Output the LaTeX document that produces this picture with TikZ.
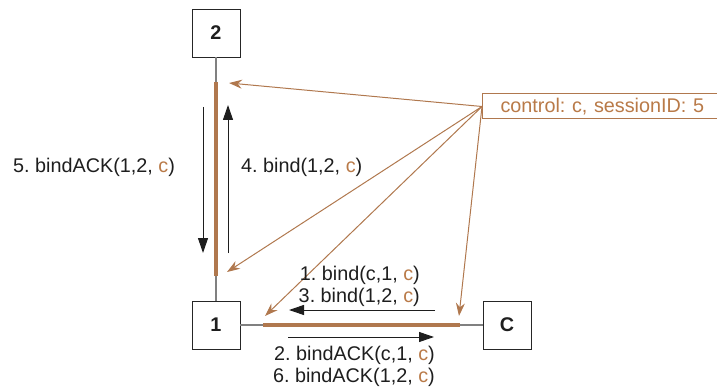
\documentclass[tikz,border=0pt]{standalone}
\usepackage{fontspec}
\setmainfont{Liberation Sans}
\usetikzlibrary{arrows.meta}
\definecolor{linkbrown}{RGB}{176,120,78}
\definecolor{txtbrown}{RGB}{185,122,72}
\definecolor{wire}{RGB}{128,128,128}
\definecolor{ink}{RGB}{30,30,30}
\tikzset{
  peer/.style={draw=black!85, line width=0.9pt, fill=white, minimum width=48pt,
    minimum height=48pt, inner sep=0pt, text=ink, font=\fontsize{19.8}{22}\selectfont\bfseries},
  wireline/.style={draw=wire, line width=1.6pt},
  session/.style={draw=linkbrown, line width=4pt},
  msg/.style={draw=ink, line width=1pt, -{Triangle[length=15pt,width=10pt]}},
  ctrlarrow/.style={draw=linkbrown, line width=1pt, -{Stealth[length=13pt,width=9pt]}},
  lbl/.style={inner sep=0pt, text=ink, font=\fontsize{19.8}{22}\selectfont},
}
\newcommand{\bc}{\textcolor{txtbrown}{c}}
\frenchspacing
\begin{document}
\begin{tikzpicture}[x=1pt,y=-1pt]
  \useasboundingbox (0,0) rectangle (717,390);

  % peers
  \node[peer] (p2) at (216,33) {2};
  \node[peer] (p1) at (216,325) {1};
  \node[peer] (pc) at (507,325) {C};

  % control box (runs off the right edge)
  \node[draw=linkbrown, line width=1pt, fill=white, anchor=west, minimum height=25pt,
        inner xsep=18pt, text width=214pt, align=left, text=txtbrown,
        font=\fontsize{19.8}{22}\selectfont] (ctrl) at (482,106.5) {control: c, sessionID: 5};

  % wires between peers
  \draw[wireline] (p2.south) -- (p1.north);
  \draw[wireline] (p1.east) -- (pc.west);

  % session segments
  \coordinate (v1) at (216,82);
  \coordinate (v2) at (216,276);
  \coordinate (h1) at (263,325);
  \coordinate (h2) at (460,325);
  \draw[session] (v1) -- (v2);
  \draw[session] (h1) -- (h2);

  % message arrows
  \coordinate (dA) at (203,107);
  \coordinate (dB) at (203,253);
  \coordinate (uA) at (228,253);
  \coordinate (uB) at (228,105);
  \coordinate (lA) at (435,310);
  \coordinate (lB) at (289,310);
  \coordinate (rA) at (288,337);
  \coordinate (rB) at (434,337);
  \draw[msg] (dA) -- (dB);
  \draw[msg] (uA) -- (uB);
  \draw[msg] (lA) -- (lB);
  \draw[msg] (rA) -- (rB);

  % control arrows
  \coordinate (src) at (ctrl.west);
  \coordinate (t1) at (229,83);
  \coordinate (t2) at (227,272);
  \coordinate (t3) at (265,316);
  \coordinate (t4) at (459,316);
  \draw[ctrlarrow] (src) -- (t1);
  \draw[ctrlarrow] (src) -- (t2);
  \draw[ctrlarrow] (src) -- (t3);
  \draw[ctrlarrow] (src) -- (t4);

  % labels
  \node[lbl, anchor=west] (m5) at (13,167) {5. bindACK(1,2, \bc)};
  \node[lbl, anchor=west] (m4) at (241,167) {4. bind(1,2, \bc)};
  \node[lbl, anchor=east] (m1) at (420,275) {1. bind(c,1, \bc)};
  \node[lbl, anchor=east] (m3) at (420,297) {3. bind(1,2, \bc)};
  \node[lbl, anchor=east] (m2) at (435,355) {2. bindACK(c,1, \bc)};
  \node[lbl, anchor=east] (m6) at (435,377) {6. bindACK(1,2, \bc)};
\end{tikzpicture}
\end{document}
